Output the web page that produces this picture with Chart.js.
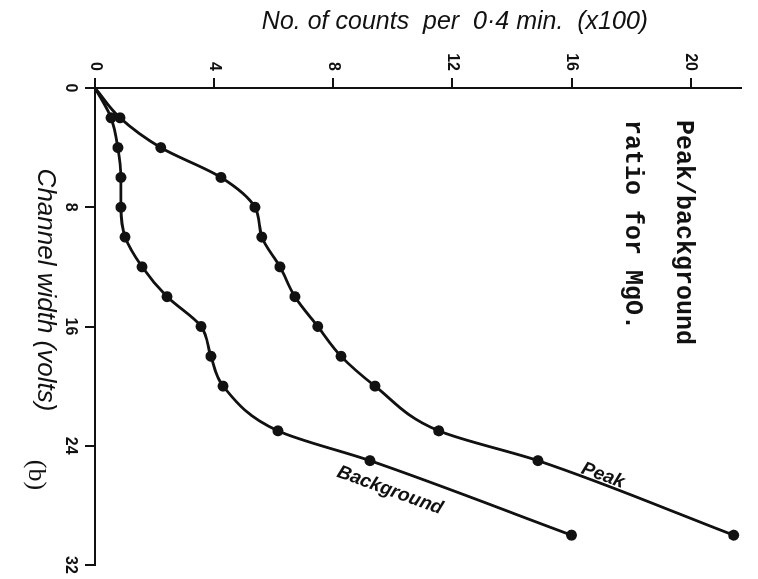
<!DOCTYPE html>
<html>
<head>
<meta charset="utf-8">
<script src="https://cdn.jsdelivr.net/npm/chart.js@4"></script>
<style>
  html, body { margin: 0; padding: 0; background: #fff; overflow: hidden; }
  /* the figure is printed turned a quarter turn clockwise */
  #wrap {
    position: absolute; left: 0; top: 0;
    width: 579px; height: 758px;
    transform-origin: 0 0;
    transform: translate(758px, 0) rotate(90deg);
  }
</style>
</head>
<body>
<div id="wrap"><canvas id="chart" width="579" height="758"></canvas></div>
<script>
// channel width (volts)
const channel = [0, 2, 4, 6, 8, 10, 12, 14, 16, 18, 20, 23, 25, 30];
// counts per 0.4 min (x100)
const peakCounts = [0, 0.84, 2.21, 4.23, 5.37, 5.60, 6.21, 6.71, 7.48, 8.26, 9.40, 11.54, 14.87, 21.44];
const backgroundCounts = [0, 0.54, 0.77, 0.87, 0.87, 1.01, 1.58, 2.42, 3.56, 3.89, 4.30, 6.14, 9.23, 16.0];
const channelTicks = [0, 8, 16, 24, 32];
const countTicks = [0, 4, 8, 12, 16, 20];

const ink = '#111';

function toPoints(ys) {
    return channel.map((x, i) => ({ x: x, y: ys[i] }));
}

function series(label, ys) {
    return {
        label: label,
        data: toPoints(ys),
        borderColor: ink,
        backgroundColor: ink,
        borderWidth: 2.8,
        pointRadius: ys.map((v, i) => i === 0 ? 0 : 5.5),
        pointBorderWidth: 0,
        cubicInterpolationMode: 'monotone',
        fill: false
    };
}

// texts written on the figure
const labelsPlugin = {
    id: 'figureText',
    afterDraw(chart) {
        const ctx = chart.ctx;
        const xs = chart.scales.x, ys = chart.scales.y;
        ctx.save();
        ctx.fillStyle = ink;

        // axis titles
        ctx.font = 'italic 25px "Liberation Sans", Arial, sans-serif';
        ctx.textAlign = 'center';
        ctx.textBaseline = 'middle';
        ctx.save();
        ctx.translate(22, 303);
        ctx.rotate(-Math.PI / 2);
        ctx.fillText('No. of counts  per  0·4 min.  (x100)', 0, 0);
        ctx.restore();
        ctx.font = 'italic 26px "Liberation Sans", Arial, sans-serif';
        ctx.fillText('Channel width (volts)', 290, 713);

        ctx.font = '26px "Liberation Serif", serif';
        ctx.fillText('(b)', 475, 722);

        // curve names
        ctx.font = 'bold italic 19px "Liberation Sans", Arial, sans-serif';
        ctx.save();
        ctx.translate(xs.getPixelForValue(27.0), ys.getPixelForValue(9.9));
        ctx.rotate(-70 * Math.PI / 180);
        ctx.fillText('Background', 0, 0);
        ctx.restore();
        ctx.save();
        ctx.translate(xs.getPixelForValue(26.0), ys.getPixelForValue(17.05));
        ctx.rotate(-70 * Math.PI / 180);
        ctx.fillText('Peak', 0, 0);
        ctx.restore();

        // caption
        ctx.font = 'bold 25px "Liberation Mono", "Courier New", monospace';
        ctx.textAlign = 'left';
        ctx.fillText('Peak/background', 120, 75);
        ctx.fillText('ratio for MgO.', 120, 126);
        ctx.restore();
    }
};

const axisStyle = {
    grid: { display: true, drawOnChartArea: false, drawTicks: true, tickLength: 10, color: ink, lineWidth: 2 },
    border: { display: true, color: ink, width: 2 }
};

new Chart(document.getElementById('chart').getContext('2d'), {
    type: 'line',
    data: {
        datasets: [
            series('Peak', peakCounts),
            series('Background', backgroundCounts)
        ]
    },
    options: {
        responsive: false,
        animation: false,
        devicePixelRatio: 1,
        layout: { padding: { top: 16, right: 14, left: 0, bottom: 0 } },
        plugins: { legend: { display: false }, tooltip: { enabled: false } },
        scales: {
            x: {
                type: 'linear',
                position: 'bottom',
                min: 0,
                max: 32,
                afterBuildTicks: s => { s.ticks = channelTicks.map(v => ({ value: v })); },
                afterFit: s => { s.height = 95; },
                ticks: { color: ink, font: { size: 16, weight: 'bold' }, padding: 5, maxRotation: 0 },
                ...axisStyle
            },
            y: {
                type: 'linear',
                min: 0,
                max: 21.7,
                afterBuildTicks: s => { s.ticks = countTicks.map(v => ({ value: v })); },
                afterFit: s => { s.width = 88; },
                ticks: { color: ink, font: { size: 16, weight: 'bold' }, padding: 7 },
                ...axisStyle
            }
        }
    },
    plugins: [labelsPlugin]
});
</script>
</body>
</html>
